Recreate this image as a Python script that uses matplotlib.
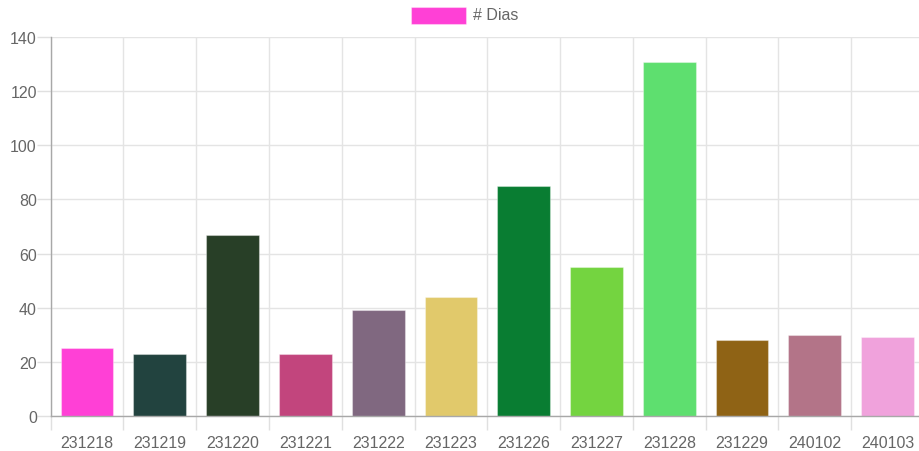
import matplotlib
matplotlib.use('Agg')
import matplotlib.pyplot as plt
import numpy as np

# datos
fechas = ['231218', '231219', '231220', '231221', '231222', '231223',
          '231226', '231227', '231228', '231229', '240102', '240103']
dias = [25, 23, 67, 23, 39, 44, 85, 55, 131, 28, 30, 29]
colores = ['#FF40D6', '#22433F', '#283F27', '#C2457D', '#806880', '#E1C96B',
           '#097D32', '#74D440', '#5EDF6F', '#8F6315', '#B37488', '#F0A2DC']

plt.rcParams['font.family'] = ['Liberation Sans', 'DejaVu Sans']

fig = plt.figure(figsize=(9.19, 4.52), dpi=100)
ax = fig.add_axes([50.7 / 919, (452 - 416.7) / 452, (924 - 50.7) / 919, 378.4 / 452])

X = np.arange(len(fechas))
bars = ax.bar(X, dias, width=0.725, color=colores, zorder=2)
for b in bars:
    b.set_edgecolor((1, 1, 1, 0.35))
    b.set_linewidth(0.8)

ax.set_xlim(-0.5, len(fechas) - 0.5)
ax.set_ylim(0, 140)

# ticks
ax.set_xticks(X)
ax.set_xticklabels(fechas)
ax.set_xticks(np.arange(-0.5, len(fechas), 1.0), minor=True)
ax.tick_params(axis='x', which='major', length=0, pad=14, labelsize=11.5, labelcolor='#666666')
ax.tick_params(axis='x', which='minor', length=10, color='#e0e0e0', width=1)
ax.set_yticks(np.arange(0, 141, 20))
ax.tick_params(axis='y', length=10, color='#e0e0e0', width=1, pad=0, labelsize=11.5, labelcolor='#666666')

ax.grid(True, which='minor', axis='x', color='#e4e4e4', linewidth=1, zorder=0)
ax.grid(True, which='major', axis='y', color='#e4e4e4', linewidth=1, zorder=0)
ax.set_axisbelow(True)

for s in ['top', 'right']:
    ax.spines[s].set_visible(False)
for s in ['left', 'bottom']:
    ax.spines[s].set_color('#a8a8a8')
    ax.spines[s].set_linewidth(1)

# leyenda
fig.patches.append(matplotlib.patches.Rectangle((411 / 919, 1 - 25 / 452), 55 / 919, 17 / 452,
                                                transform=fig.transFigure, facecolor='#FF40D6',
                                                edgecolor=(1, 1, 1, 0.35), linewidth=0.8))
fig.text(473 / 919, 1 - 16 / 452, '# Dias', fontsize=11.5, color='#666666', va='center', ha='left')

fig.savefig('out.png', dpi=100)
